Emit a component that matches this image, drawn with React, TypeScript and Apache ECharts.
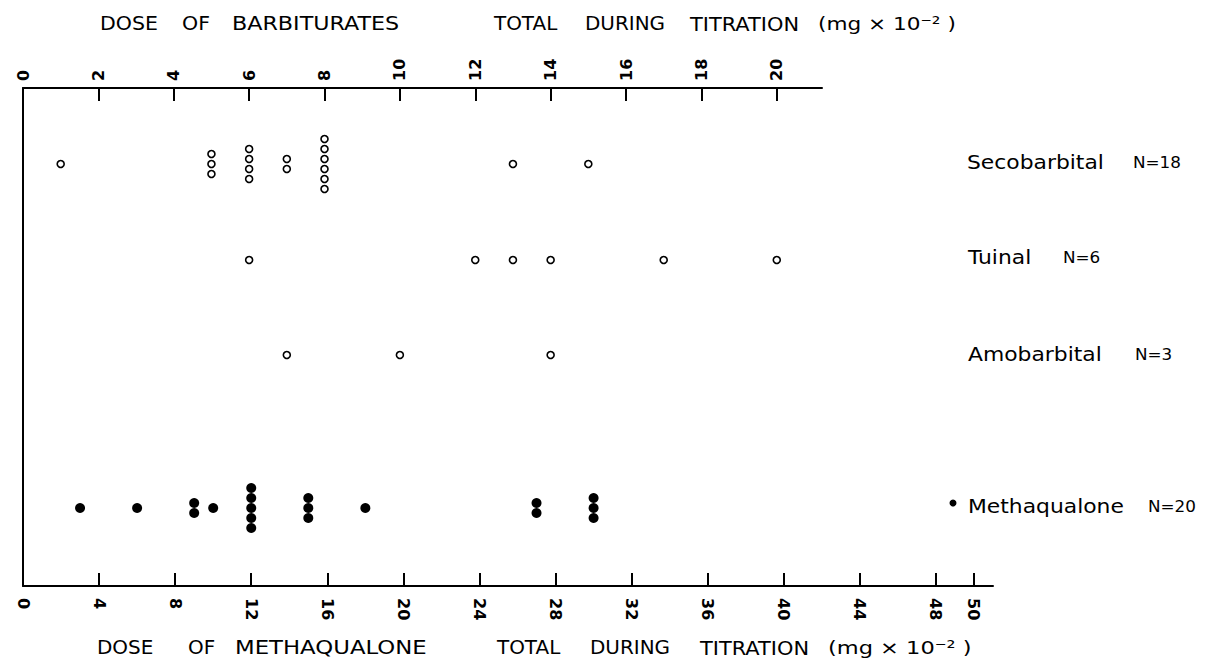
import React, { useEffect, useRef } from "react";
import * as echarts from "echarts";

// ---- data (doses, total during titration, mg x 10^-2) ----
const secobarbital = [1, 5, 5, 5, 6, 6, 6, 6, 7, 7, 8, 8, 8, 8, 8, 8, 13, 15];
const tuinal = [6, 12, 13, 14, 17, 20];
const amobarbital = [7, 10, 14];
const methaqualone = [3, 6, 9, 9, 10, 12, 12, 12, 12, 12, 15, 15, 15, 18, 27, 27, 30, 30, 30];

const barbTicks = [0, 2, 4, 6, 8, 10, 12, 14, 16, 18, 20];
const methTicks = [0, 4, 8, 12, 16, 20, 24, 28, 32, 36, 40, 44, 48, 50];

const rowLabels = ["Secobarbital", "Tuinal", "Amobarbital", "Methaqualone"];
const rowCounts = ["N=18", "N=6", "N=3", "N=20"];

// ---- layout ----
const ROW_Y = [7.6, 17.2, 26.7, 42.0]; // rows on the vertical (pixel-like) scale
const STACK_STEP = 1.0;
const FONT = "'DejaVu Sans', 'Liberation Sans', sans-serif";

function stackPoints(values: number[], row: number): number[][] {
  const counts: Record<string, number> = {};
  values.forEach((v) => (counts[v] = (counts[v] || 0) + 1));
  const seen: Record<string, number> = {};
  return values.map((v) => {
    const i = seen[v] || 0;
    seen[v] = i + 1;
    const n = counts[v];
    return [v, row + (i - (n - 1) / 2) * STACK_STEP];
  });
}

export default function App() {
  const ref = useRef<HTMLDivElement>(null);

  useEffect(() => {
    if (!ref.current) return;
    const chart = echarts.init(ref.current, undefined, { renderer: "svg" });

    const openCircle = {
      type: "scatter",
      xAxisIndex: 0,
      yAxisIndex: 0,
      symbol: "circle",
      symbolSize: 7,
      itemStyle: { color: "#fff", borderColor: "#000", borderWidth: 1.6, opacity: 1 },
      silent: true,
    };

    const textEl = (text: string, x: number, y: number, size: number, sx = 1, extra: any = {}) => ({
      type: "text",
      x,
      y,
      scaleX: sx,
      silent: true,
      style: {
        text,
        fontSize: size,
        fontFamily: FONT,
        fill: "#000",
        align: "left",
        verticalAlign: "middle",
        ...extra,
      },
    });

    const rowTextY = [163, 258, 355, 507];
    const nameX = [967, 968, 968, 968];
    const countX = [1133, 1063, 1135, 1148];
    const TS = 1.17; // title horizontal stretch (wide-set lettering)

    const graphics: any[] = [
      // top title
      textEl("DOSE", 100, 24, 19, 1.08),
      textEl("OF", 182, 24, 19, 1.08),
      textEl("BARBITURATES", 232, 24, 19, TS),
      textEl("TOTAL", 494, 24, 19, 1.05),
      textEl("DURING", 585, 24, 19, 1.05),
      textEl("TITRATION", 690, 24, 19, 1.1),
      textEl("(mg × 10⁻² )", 818, 24, 18, 1.2),
      // bottom title
      textEl("DOSE", 97, 648, 19, 1.05),
      textEl("OF", 188, 648, 19, 1.05),
      textEl("METHAQUALONE", 235, 648, 19, 1.2),
      textEl("TOTAL", 497, 648, 19, 1.05),
      textEl("DURING", 590, 648, 19, 1.05),
      textEl("TITRATION", 700, 648, 19, 1.1),
      textEl("(mg × 10⁻² )", 828, 648, 18, 1.25),
      // bullet before Methaqualone
      { type: "circle", silent: true, shape: { cx: 953, cy: 503, r: 3.5 }, style: { fill: "#000" } },
    ];
    rowLabels.forEach((name, i) => {
      graphics.push(textEl(name, nameX[i], rowTextY[i], 19, 1.15));
      graphics.push(textEl(rowCounts[i], countX[i], rowTextY[i], 16, 1.05));
    });

    const axisLabelBase = {
      fontFamily: FONT,
      fontWeight: "bold",
      color: "#000",
      rotate: -90,
    };

    chart.setOption({
      animation: false,
      backgroundColor: "#fff",
      grid: [
        { left: 23, top: 88, width: 799, height: 498 },
        { left: 23, top: 88, width: 970, height: 498 },
      ],
      xAxis: [
        {
          type: "value",
          gridIndex: 0,
          position: "top",
          min: 0,
          max: 21.2,
          interval: 2,
          axisLine: { show: true, onZero: false, lineStyle: { color: "#000", width: 2 } },
          axisTick: {
            show: true,
            inside: true,
            length: 13,
            lineStyle: { color: "#000", width: 2 },
            customValues: barbTicks,
          },
          axisLabel: {
            ...axisLabelBase,
            fontSize: 16,
            margin: 7,
            customValues: barbTicks,
            showMinLabel: true,
          },
          splitLine: { show: false },
        },
        {
          type: "value",
          gridIndex: 1,
          position: "bottom",
          min: 0,
          max: 51,
          interval: 4,
          axisLine: { show: true, onZero: false, lineStyle: { color: "#000", width: 2 } },
          axisTick: {
            show: true,
            inside: true,
            length: 13,
            lineStyle: { color: "#000", width: 2 },
            customValues: methTicks,
          },
          axisLabel: {
            ...axisLabelBase,
            fontSize: 16,
            margin: 12,
            customValues: methTicks,
            showMinLabel: true,
            showMaxLabel: true,
          },
          splitLine: { show: false },
        },
      ],
      yAxis: [
        {
          type: "value",
          gridIndex: 0,
          min: 0,
          max: 49.8,
          inverse: true,
          axisLine: { show: true, onZero: false, lineStyle: { color: "#000", width: 2 } },
          axisTick: { show: false },
          axisLabel: { show: false },
          splitLine: { show: false },
        },
        {
          type: "value",
          gridIndex: 1,
          min: 0,
          max: 49.8,
          inverse: true,
          show: false,
          splitLine: { show: false },
        },
      ],
      series: [
        { ...openCircle, name: rowLabels[0], data: stackPoints(secobarbital, ROW_Y[0]) },
        { ...openCircle, name: rowLabels[1], data: stackPoints(tuinal, ROW_Y[1]) },
        { ...openCircle, name: rowLabels[2], data: stackPoints(amobarbital, ROW_Y[2]) },
        {
          type: "scatter",
          name: rowLabels[3],
          xAxisIndex: 1,
          yAxisIndex: 1,
          symbol: "circle",
          symbolSize: 10,
          itemStyle: { color: "#000", opacity: 1 },
          silent: true,
          data: stackPoints(methaqualone, ROW_Y[3]),
        },
      ],
      graphic: graphics,
    });

    return () => chart.dispose();
  }, []);

  return (
    <div
      ref={ref}
      style={{ position: "fixed", left: 0, top: 0, width: 1210, height: 667, background: "#fff" }}
    />
  );
}
